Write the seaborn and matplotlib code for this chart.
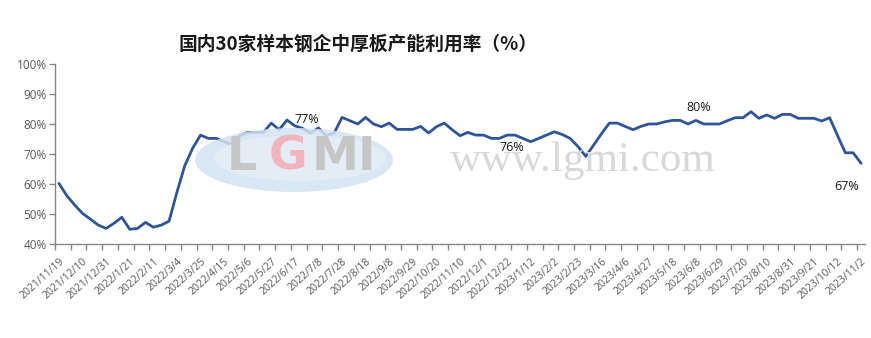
import matplotlib
matplotlib.use("Agg")
import matplotlib.pyplot as plt
import matplotlib.transforms as mtransforms
import seaborn as sns
import pandas as pd
import numpy as np
from matplotlib.patches import Ellipse

# ---------------- data ----------------
title = "国内30家样本钢企中厚板产能利用率（%）"

tick_labels = [
    "2021/11/19", "2021/12/10", "2021/12/31", "2022/1/21", "2022/2/11", "2022/3/4",
    "2022/3/25", "2022/4/15", "2022/5/6", "2022/5/27", "2022/6/17", "2022/7/8",
    "2022/7/28", "2022/8/18", "2022/9/8", "2022/9/29", "2022/10/20", "2022/11/10",
    "2022/12/1", "2022/12/22", "2023/1/12", "2023/2/2", "2023/2/23", "2023/3/16",
    "2023/4/6", "2023/4/27", "2023/5/18", "2023/6/8", "2023/6/29", "2023/7/20",
    "2023/8/10", "2023/8/31", "2023/9/21", "2023/10/12", "2023/11/2",
]

utilization = [
    60.2, 56.1, 53.0, 50.2, 48.3, 46.3, 45.2, 46.9, 48.9, 44.9,
    45.2, 47.2, 45.6, 46.3, 47.6, 57.2, 66.1, 71.9, 76.3, 75.2,
    75.2, 74.1, 73.1, 76.1, 77.2, 77.2, 77.2, 80.3, 78.1, 81.3,
    79.4, 78.5, 77.0, 78.7, 76.1, 77.0, 82.2, 81.1, 80.0, 82.2,
    80.0, 79.1, 80.3, 78.2, 78.2, 78.2, 79.2, 77.0, 79.1, 80.3,
    78.1, 76.1, 77.2, 76.3, 76.3, 75.2, 75.2, 76.3, 76.3, 75.2,
    74.1, 75.2, 76.3, 77.4, 76.5, 75.2, 72.5, 69.2, 73.0, 76.8,
    80.3, 80.3, 79.2, 78.1, 79.2, 80.0, 80.0, 80.7, 81.2, 81.2,
    80.0, 81.2, 80.0, 80.0, 80.0, 81.1, 82.1, 82.1, 84.1, 81.9,
    83.0, 81.9, 83.2, 83.2, 81.9, 81.9, 81.9, 81.0, 82.1, 76.2,
    70.4, 70.4, 66.9,
]

annot_index = [31, 57, 81, 102]
annot_text = ["77%", "76%", "80%", "67%"]
annot_offset = [(4, 9), (5, -12), (2.5, 13), (-14, -23)]

yticks = [40, 50, 60, 70, 80, 90, 100]

# ---------------- figure ----------------
sns.set_theme(style="white")
plt.rcParams["font.family"] = ["Open Sans", "Noto Sans CJK SC", "DejaVu Sans"]

W, H = 871, 338
fig = plt.figure(figsize=(W / 100, H / 100), dpi=100)
fig.patch.set_facecolor("white")
ax = fig.add_axes([55 / W, 1 - 244 / H, (865 - 55) / W, (244 - 64) / H])
ax.set_facecolor("none")

df = pd.DataFrame({"idx": np.arange(len(utilization)), "value": utilization})

# watermark (behind line)
ell = Ellipse((294 / W, 1 - 160 / H), 198 / W, 64 / H, transform=fig.transFigure,
              facecolor="#d3e2f1", edgecolor="none", alpha=0.85, zorder=0)
fig.patches.append(ell)
ell2 = Ellipse((300 / W, 1 - 158 / H), 172 / W, 46 / H, transform=fig.transFigure,
               facecolor="#e6eef7", edgecolor="none", alpha=0.9, zorder=0)
fig.patches.append(ell2)
for ch, cx, col in [("L", 242, "#c6c6c6"), ("G", 288, "#f0b4bc"),
                    ("MI", 344, "#c6c6c6")]:
    fig.text(cx / W, 1 - 157 / H, ch, transform=fig.transFigure, ha="center",
             va="center", fontsize=34, fontweight="bold", color=col,
             family="DejaVu Sans", zorder=0.5)
fig.text(450 / W, 1 - 171 / H, "www.lgmi.com", transform=fig.transFigure,
         ha="left", va="baseline", fontsize=31, color="#d8d8d8",
         family="Liberation Serif", zorder=0.5)

sns.lineplot(data=df, x="idx", y="value", ax=ax, color="#2f5597",
             linewidth=2.0, zorder=3)

ax.set_xlim(-0.5, len(utilization) - 0.5)
ax.set_ylim(40, 100)
ax.set_yticks(yticks)
ax.set_yticklabels([f"{v}%" for v in yticks])

label_pos = list(range(0, len(utilization), 3))
ax.set_xticks(label_pos)
ax.set_xticklabels(tick_labels, rotation=42, ha="right", va="top",
                   rotation_mode="anchor")
shift = mtransforms.ScaledTranslation(4 / 100, 0, fig.dpi_scale_trans)
for lab in ax.get_xticklabels():
    lab.set_transform(lab.get_transform() + shift)
ax.set_xticks(np.arange(-0.5, len(utilization), 2), minor=True)

ax.set_xlabel("")
ax.set_ylabel("")

for s in ["top", "right"]:
    ax.spines[s].set_visible(False)
for s in ["left", "bottom"]:
    ax.spines[s].set_color("#868686")
    ax.spines[s].set_linewidth(1.0)

ax.tick_params(axis="y", which="major", direction="out", length=4, width=1,
               color="#868686", labelsize=8.5, labelcolor="#595959", pad=2, left=True)
ax.tick_params(axis="x", which="major", length=0, labelsize=7.5,
               labelcolor="#595959", pad=9, bottom=True)
ax.tick_params(axis="x", which="minor", direction="out", length=4, width=1,
               color="#868686", bottom=True)

for i, txt, off in zip(annot_index, annot_text, annot_offset):
    ax.annotate(txt, xy=(i, utilization[i]), xytext=off,
                textcoords="offset pixels", ha="center", va="center",
                fontsize=9, color="#1a1a1a", zorder=4)

fig.text(358 / W, 1 - 44 / H, title, ha="center", va="center", fontsize=13.5,
         fontweight="bold", color="#1a1a1a",
         family=["Noto Sans CJK SC", "DejaVu Sans"])

fig.savefig("out.png", dpi=100, facecolor="white")
